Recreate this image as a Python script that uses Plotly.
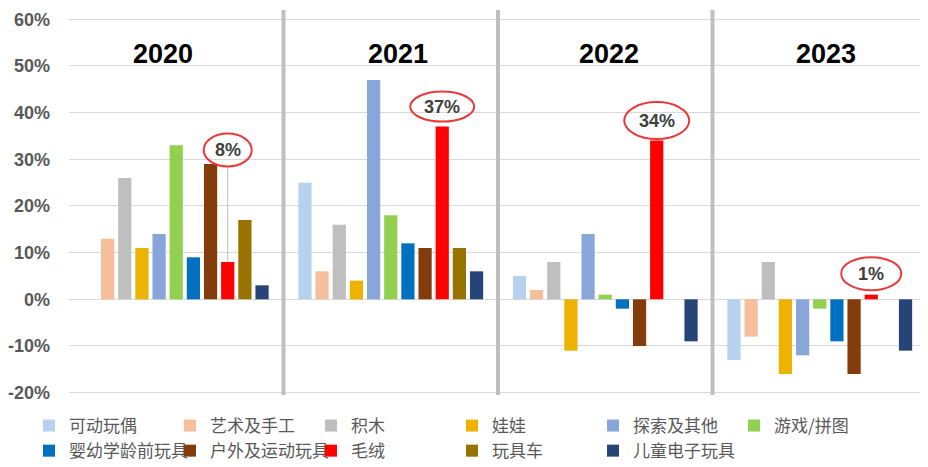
import plotly.graph_objects as go

years = ["2020", "2021", "2022", "2023"]
series_names = ["可动玩偶", "艺术及手工", "积木", "娃娃", "探索及其他", "游戏/拼图",
                "婴幼学龄前玩具", "户外及运动玩具", "毛绒", "玩具车", "儿童电子玩具"]
colors = ["#B6D2EE", "#F5BF9B", "#BFBFBF", "#EDB300", "#89A6DA", "#92D050",
          "#0070C0", "#843C0C", "#FF0000", "#997300", "#264478"]

# growth rates (%) per series, in order of years
v_action = [None, 25, 5, -13]
v_arts = [13, 6, 2, -8]
v_blocks = [26, 16, 8, 8]
v_dolls = [11, 4, -11, -16]
v_explore = [14, 47, 14, -12]
v_games = [33, 18, 1, -2]
v_infant = [9, 12, -2, -9]
v_outdoor = [29, 11, -10, -16]
v_plush = [8, 37, 34, 1]
v_vehicles = [17, 11, None, None]
v_electronic = [3, 6, -9, -11]

series_values = [v_action, v_arts, v_blocks, v_dolls, v_explore, v_games,
                 v_infant, v_outdoor, v_plush, v_vehicles, v_electronic]

y_ticks = [-20, -10, 0, 10, 20, 30, 40, 50, 60]
y_ticktext = ["-20%", "-10%", "0%", "10%", "20%", "30%", "40%", "50%", "60%"]

highlight_series = "毛绒"
highlight_labels = ["8%", "37%", "34%", "1%"]
# ellipse style per year: (pixel offset above bar top, width, height)
ellipse_geom = [(112, 48, 33), (20, 64, 30), (20, 65, 37), (21, 60, 33)]

BARGAP = 0.12
BARGROUPGAP = 0.23

# the page body adds an 8px offset; the figure is sized to fill the rest
W, H = 920, 459

xs = list(range(len(years)))
fig = go.Figure()
for name, vals, col in zip(series_names, series_values, colors):
    fig.add_trace(go.Bar(name=name, x=xs, y=vals, marker_color=col,
                         marker_line_width=0))

# divider lines between year groups
for i in range(len(years) - 1):
    fig.add_shape(type="line", xref="x", yref="paper", x0=i + 0.5, x1=i + 0.5,
                  y0=0, y1=1.016, line=dict(color="#BFBFBF", width=4), layer="above")

# year titles
for i, yr in enumerate(years):
    shift = [-13, 7, 4, 6][i]
    fig.add_annotation(x=i, y=52.6, xref="x", yref="y", text=yr,
                       showarrow=False, xshift=shift,
                       font=dict(family="Liberation Sans", size=27, color="#000000",
                                 weight="bold"))

# highlighted labels with red ellipses
k = series_names.index(highlight_series)
n = len(series_names)
slot = (1 - BARGAP) / n
offset = -(1 - BARGAP) / 2 + (k + 0.5) * slot
for i, (lab, (dy, w, h)) in enumerate(zip(highlight_labels, ellipse_geom)):
    xb = i + offset
    yv = v_plush[i]
    if dy - h / 2 > 5:
        fig.add_shape(type="line", xref="x", yref="y", xsizemode="pixel", ysizemode="pixel",
                      xanchor=xb, yanchor=yv, x0=0, x1=0, y0=0, y1=dy - h / 2,
                      line=dict(color="#BFBFBF", width=1))
    fig.add_shape(type="circle", xref="x", yref="y", xsizemode="pixel", ysizemode="pixel",
                  xanchor=xb, yanchor=yv, x0=-w / 2, x1=w / 2, y0=dy - h / 2, y1=dy + h / 2,
                  line=dict(color="#E83A3A", width=2), fillcolor="rgba(255,255,255,0)")
    fig.add_annotation(x=xb, y=yv, xref="x", yref="y", yshift=dy, text=lab,
                       showarrow=False,
                       font=dict(family="Liberation Sans", size=18, color="#404040",
                                 weight="bold"))

fig.update_layout(
    width=W, height=H,
    margin=dict(l=61, r=1, t=8, b=72, autoexpand=False),
    paper_bgcolor="white", plot_bgcolor="white",
    barmode="group", bargap=BARGAP, bargroupgap=BARGROUPGAP,
    showlegend=True,
    legend=dict(orientation="h", xref="container", yref="container",
                x=21 / W, y=1 - 400 / H, xanchor="left", yanchor="top",
                entrywidth=96, entrywidthmode="pixels",
                font=dict(family="Noto Sans CJK SC", size=17, color="#595959"),
                bgcolor="rgba(0,0,0,0)"),
    xaxis=dict(range=[-0.5, len(years) - 0.5], showticklabels=False, showgrid=False,
               zeroline=False, showline=False, ticks="", automargin=False),
    yaxis=dict(range=[-20.5, 60.7], tickvals=y_ticks, ticktext=y_ticktext,
               showgrid=True, gridcolor="#D9D9D9", gridwidth=1,
               zeroline=True, zerolinecolor="#D9D9D9", zerolinewidth=1,
               showline=False, ticks="", ticklabelstandoff=18,
               ticklabeloverflow="allow", automargin=False,
               tickfont=dict(family="Liberation Sans", size=18, color="#595959",
                             weight="bold")),
)

fig.write_html("out.html")
